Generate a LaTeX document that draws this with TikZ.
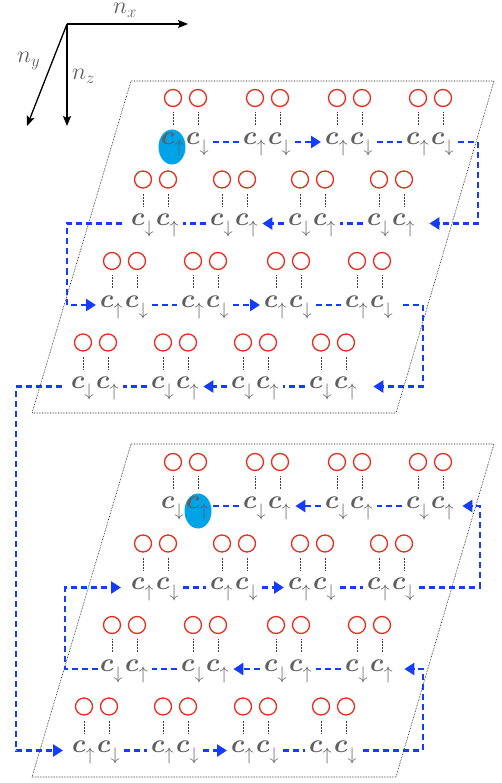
\RequirePackage{fix-cm}
\documentclass[tikz,border=0pt]{standalone}
\usetikzlibrary{arrows.meta}
\definecolor{ringred}{RGB}{232,45,30}
\definecolor{flowblue}{RGB}{20,60,255}
\definecolor{hlblue}{RGB}{0,162,232}
\definecolor{opgray}{RGB}{95,95,95}
% spin subscripts: light weight, set a little lower than usual
\newcommand\spinu{\lower4pt\hbox{\unboldmath$\scriptstyle\uparrow$}}
\newcommand\spind{\lower4pt\hbox{\unboldmath$\scriptstyle\downarrow$}}
\tikzset{
  ring/.style={circle, draw=ringred, line width=1.3pt, minimum size=17pt, inner sep=0pt},
  op/.style={inner sep=0pt, text=opgray, font=\fontsize{26}{30}\selectfont\boldmath},
  tie/.style={densely dotted, line width=0.5pt, black!75},
  plane/.style={densely dotted, line width=0.6pt},
  flow/.style={flowblue, line width=2.6pt, dash pattern=on 6pt off 4pt},
  gap/.style={shorten <=4pt, shorten >=4pt},
  tip/.style={-{Triangle[length=10pt,width=12pt]}},
  axis/.style={line width=1.3pt, -{Stealth[length=10pt,width=8pt,inset=2pt]}},
  lbl/.style={inner sep=0pt, text=opgray, font=\fontsize{24}{28}\selectfont}
}
\begin{document}
\begin{tikzpicture}[x=1pt,y=-1pt]
\useasboundingbox (0,0) rectangle (501,783);

% coordinate axes
\coordinate (o) at (67,24);
\coordinate (ax) at (188,24);
\coordinate (ay) at (27,126);
\coordinate (az) at (67,126);
\draw[axis] (o) -- (ax);
\draw[axis] (o) -- (ay);
\draw[axis] (o) -- (az);
\node[lbl, anchor=base west] (nx) at (113,14) {$n_x$};
\node[lbl, anchor=base west] (ny) at (17,63) {$n_y$};
\node[lbl, anchor=base west] (nz) at (72,80) {$n_z$};

% the two layers
\draw[plane] (131,81) -- (494,81) -- (396,413) -- (32,413) -- cycle;
\draw[plane] (131,444) -- (494,444) -- (396,777) -- (32,777) -- cycle;

% highlighted operators
\fill[hlblue] (172,147) ellipse (13.5 and 17.5);
\fill[hlblue] (198,511) ellipse (13.5 and 17.5);

% sites: pairs of orbitals with their operators
\foreach \pl/\r/\cy/\sa/\sb/\xs in {
    U/1/98/u/d/{173,255,337,418},
    U/2/179.5/d/u/{143,222,300,379},
    U/3/261/u/d/{112,193,276,357},
    U/4/342.5/d/u/{83,163,243,321},
    L/1/462/d/u/{173,255,337,418},
    L/2/543.5/u/d/{143,222,300,379},
    L/3/625/d/u/{112,193,276,357},
    L/4/706.5/u/d/{84,163,243,321}} {
  \foreach \X [count=\p] in \xs {
    \node[ring] (\pl\r\p o1) at (\X,\cy) {};
    \node[ring] (\pl\r\p o2) at ({\X+25},\cy) {};
    \node[op, anchor=mid west] (\pl\r\p a) at ({\X-12},{\cy+44})
      {$c_{\csname spin\sa\endcsname}$};
    \node[op, anchor=mid west] (\pl\r\p b) at ({\X+13},{\cy+44})
      {$c_{\csname spin\sb\endcsname}$};
    \draw[tie, shorten <=5pt, shorten >=8pt] (\pl\r\p o1.south) -- (\pl\r\p o1.south |- \pl\r\p a.north);
    \draw[tie, shorten <=5pt, shorten >=8pt] (\pl\r\p o2.south) -- (\pl\r\p o2.south |- \pl\r\p b.north);
  }
}

% turning columns of the path
\coordinate (rA) at (478,0);
\coordinate (rB) at (423,0);
\coordinate (rC) at (480,0);
\coordinate (lA) at (67,0);
\coordinate (lB) at (65,0);
\coordinate (lC) at (16,0);

% path through the upper layer
\draw[flow, gap] (U11b.mid east) -- (U12a.mid west);
\draw[flow, gap, tip] (U12b.mid east) -- (U13a.mid west);
\draw[flow, gap] (U13b.mid east) -- (U14a.mid west);
\draw[flow, tip, shorten <=4pt, shorten >=14pt] (U14b.mid east) -| (rA |- U24b.mid east) -- (U24b.mid east);
\draw[flow, gap] (U24a.mid west) -- (U23b.mid east);
\draw[flow, gap, tip] (U23a.mid west) -- (U22b.mid east);
\draw[flow, gap] (U22a.mid west) -- (U21b.mid east);
\draw[flow, tip, shorten <=9pt, shorten >=4pt] (U21a.mid west) -| (lA |- U31a.mid west) -- (U31a.mid west);
\draw[flow, gap] (U31b.mid east) -- (U32a.mid west);
\draw[flow, gap, tip] (U32b.mid east) -- (U33a.mid west);
\draw[flow, gap] (U33b.mid east) -- (U34a.mid west);
\draw[flow, tip, shorten <=10pt, shorten >=16pt] (U34b.mid east) -| (rB |- U44b.mid east) -- (U44b.mid east);
\draw[flow, gap] (U44a.mid west) -- (U43b.mid east);
\draw[flow, gap, tip] (U43a.mid west) -- (U42b.mid east);
\draw[flow, gap] (U42a.mid west) -- (U41b.mid east);
\draw[flow, tip, shorten <=9pt, shorten >=9pt] (U41a.mid west) -| (lC |- L41a.mid west) -- (L41a.mid west);

% path through the lower layer
\draw[flow, gap] (L41b.mid east) -- (L42a.mid west);
\draw[flow, gap, tip] (L42b.mid east) -- (L43a.mid west);
\draw[flow, gap] (L43b.mid east) -- (L44a.mid west);
\draw[flow, tip, shorten <=6pt, shorten >=11pt] (L44b.mid east) -| (rB |- L34b.mid east) -- (L34b.mid east);
\draw[flow, gap] (L34a.mid west) -- (L33b.mid east);
\draw[flow, gap, tip] (L33a.mid west) -- (L32b.mid east);
\draw[flow, gap] (L32a.mid west) -- (L31b.mid east);
\draw[flow, tip, shorten <=2pt, shorten >=10pt] (L31a.mid west) -| (lB |- L21a.mid west) -- (L21a.mid west);
\draw[flow, gap] (L21b.mid east) -- (L22a.mid west);
\draw[flow, gap, tip] (L22b.mid east) -- (L23a.mid west);
\draw[flow, gap] (L23b.mid east) -- (L24a.mid west);
\draw[flow, tip, shorten <=4pt, shorten >=8pt] (L24b.mid east) -| (rC |- L14b.mid east) -- (L14b.mid east);
\draw[flow, gap] (L14a.mid west) -- (L13b.mid east);
\draw[flow, gap, tip] (L13a.mid west) -- (L12b.mid east);
\draw[flow, gap] (L12a.mid west) -- (L11b.mid east);
\end{tikzpicture}
\end{document}
